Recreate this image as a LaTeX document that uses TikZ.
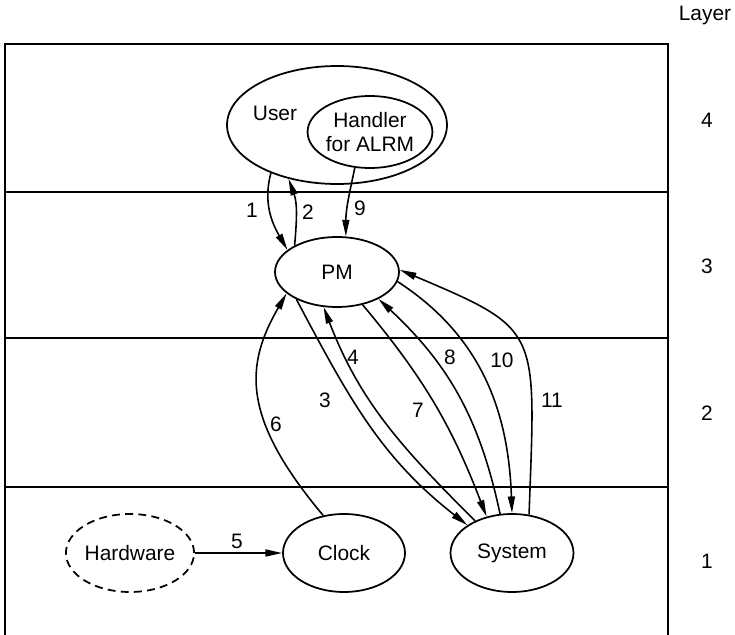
\documentclass[tikz,border=0pt]{standalone}
\usepackage{fontspec}
\setmainfont{Liberation Sans}
\usetikzlibrary{shapes.geometric,arrows.meta}

\begin{document}
\begin{tikzpicture}[x=0.02cm, y=0.02cm,
    font=\fontsize{11.9}{13.6}\selectfont,
    proc/.style={ellipse, draw, line width=1pt, inner sep=0pt,
      minimum width=2.44cm, minimum height=1.56cm},
    flow/.style={-{Triangle[length=9.5pt, width=4pt]}, line width=0.9pt},
    num/.style={inner sep=0pt}]
      \useasboundingbox (0,0) rectangle (735,-635);

      % layer box and separators
      \draw[line width=1.1pt] (5,-635) -- (5,-44) -- (668,-44) -- (668,-635);
      \foreach \y in {192, 338, 487} {
        \draw[line width=1.1pt] (5,-\y) -- (668,-\y);
      }

      % layer numbers on the right
      \node[num] (layer) at (705,-15) {Layer};
      \foreach \n/\y in {4/120, 3/266, 2/413, 1/561} {
        \node[num] (lay\n) at (707,-\y) {\n};
      }

      % processes
      \node[proc, minimum width=4.4cm, minimum height=2.36cm] (user) at (337,-125) {};
      \node[num] (usertext) at (275,-113) {User};
      \node[proc, minimum width=2.48cm, minimum height=1.44cm, align=center] (handler) at (370,-132) {Handler\\for ALRM};
      \node[proc, minimum width=2.48cm, minimum height=1.4cm] (pm) at (337,-272) {PM};
      \node[proc, dash pattern=on 4.5pt off 3pt] (hw) at (130,-553) {Hardware};
      \node[proc] (clock) at (344,-553) {Clock};
      \node[proc, minimum width=2.46cm] (sys) at (512,-553) {System};

      % message flow
      \draw[flow] (user.-144) to[out=-105, in=120] (pm.156);
      \draw[flow] (pm.148) to[out=85, in=-70] (user.-132);
      \draw[flow] (handler.-113) to[out=-102, in=90] (pm.76);
      \draw[flow] (pm.-146) to[out=-62, in=142] (sys.148);
      \draw[flow] (sys.139) to[out=135, in=-69] (pm.-111);
      \draw[flow] (hw.east) -- (clock.west);
      \draw[flow] (clock.119) to[out=130, in=-120, out distance=2.56cm, in distance=1.66cm] (pm.-157);
      \draw[flow] (pm.-52) to[out=-50, in=111] (sys.125);
      \draw[flow] (sys.107) to[out=102, in=-43] (pm.-33);
      \draw[flow] (pm.-9) to[out=-33, in=92] (sys.90);
      \draw[flow] (sys.66) to[out=88, in=-23, out distance=3.74cm, in distance=3.1cm] (pm.2);

      % step numbers
      \node[num] (s1) at (252,-210) {1};
      \node[num] (s2) at (308,-212) {2};
      \node[num] (s9) at (360,-208) {9};
      \node[num] (s3) at (325,-400) {3};
      \node[num] (s4) at (353,-357) {4};
      \node[num] (s7) at (418,-410) {7};
      \node[num] (s8) at (450,-357) {8};
      \node[num] (s10) at (502,-360) {10};
      \node[num] (s11) at (552,-400) {11};
      \node[num] (s6) at (276,-424) {6};
      \node[num] (s5) at (237,-541) {5};
    \end{tikzpicture}
\end{document}
